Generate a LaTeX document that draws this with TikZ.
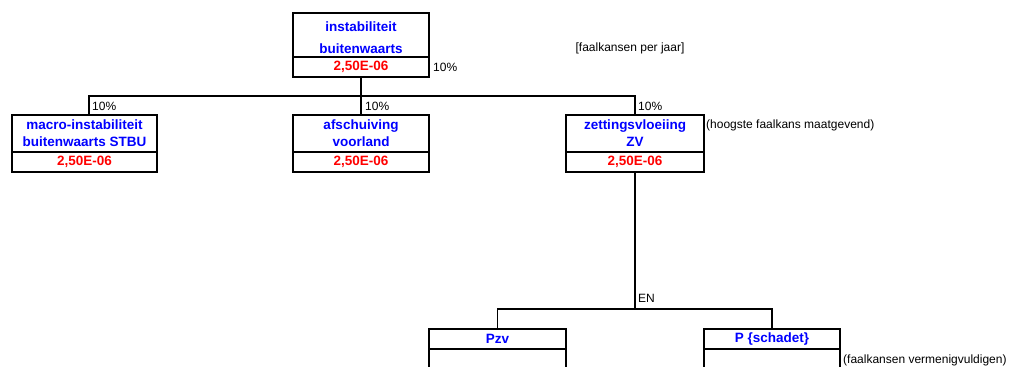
\documentclass[tikz,border=0pt]{standalone}
\usepackage{fontspec}
\setmainfont{Liberation Sans}
\usetikzlibrary{positioning}

\begin{document}
\begin{tikzpicture}[x=1pt, y=-1pt,
	box/.style = {draw, line width=1.7pt, inner sep=0pt, outer sep=0pt, align=center},
	titel/.style = {box, text=blue, font=\bfseries\fontsize{13.5}{17}\selectfont, minimum height=37pt},
	kans/.style = {box, text=red, font=\bfseries\fontsize{13.5}{15}\selectfont, minimum height=20pt},
	lijn/.style = {line width=1.5pt},
	klein/.style = {inner sep=0pt, font=\fontsize{12}{14}\selectfont}]
	\clip (0,0) rectangle (1018,367);
	% bovenste gebeurtenis
	\node[titel, minimum width=136pt, minimum height=44pt, font=\bfseries\fontsize{13.5}{22}\selectfont] (top) at (361,35) {\strut instabiliteit\\buitenwaarts};
	\node[kans, minimum width=136pt, below=0pt of top] (topv) {2,50E-06};
	% faalmechanismen
	\node[titel, minimum width=145pt] (lt) at (84.5,133.5) {macro-instabiliteit\\buitenwaarts STBU};
	\node[kans, minimum width=145pt, below=0pt of lt] (lv) {2,50E-06};
	\node[titel, minimum width=136pt] (mt) at (361,133.5) {afschuiving\\voorland};
	\node[kans, minimum width=136pt, below=0pt of mt] (mv) {2,50E-06};
	\node[titel, minimum width=138pt] (rt) at (635,133.5) {zettingsvloeiing\\ZV};
	\node[kans, minimum width=138pt, below=0pt of rt] (rv) {2,50E-06};
	% onderliggende kansen
	\node[titel, minimum width=137pt, minimum height=20pt] (pzv) at (497.5,339) {Pzv};
	\node[kans, minimum width=137pt, minimum height=50pt, below=0pt of pzv] (pzvv) {};
	\node[titel, minimum width=136pt, minimum height=20pt] (ps) at (772,339) {P \{schadet\}};
	\node[kans, minimum width=136pt, minimum height=50pt, below=0pt of ps] (psv) {};
	% verbindingen
	\coordinate (bus) at (361,96);
	\coordinate (en) at (635,309);
	\draw[lijn] (topv.south) -- (mt.north);
	\draw[lijn] ([xshift=4.5pt]lt.north) -- ([xshift=4.5pt]lt.north |- bus) -- (rt.north |- bus) -- (rt.north);
	\draw[lijn] (rv.south) -- (en);
	\draw[lijn] (pzv.north) -- (pzv.north |- en) -- (ps.north |- en) -- (ps.north);
	% teksten
	\node[klein, right=4pt of topv] (ptop) {10\%};
	\node[klein, anchor=west] (pl) at (92,106) {10\%};
	\node[klein, anchor=west] (pm) at (365,106) {10\%};
	\node[klein, anchor=west] (pr) at (638,106) {10\%};
	\node[klein] (eenheid) at (630,48) {[faalkansen per jaar]};
	\node[klein, anchor=west] (hoog) at (706,125) {(hoogste faalkans maatgevend)};
	\node[klein, anchor=west] (enlabel) at (638,298) {EN};
	\node[klein, anchor=west] (verm) at (843,360) {(faalkansen vermenigvuldigen)};
\end{tikzpicture}
\end{document}
